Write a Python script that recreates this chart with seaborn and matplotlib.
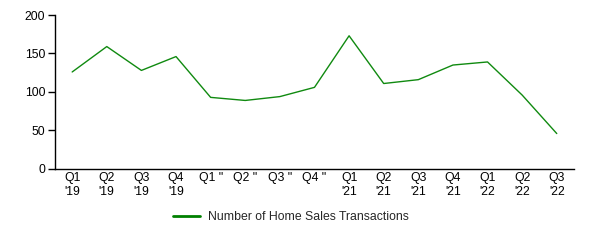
import matplotlib
matplotlib.use('Agg')
import matplotlib.pyplot as plt
import seaborn as sns
import pandas as pd

# quarters and home sales counts
quarters = ["Q1\n'19", "Q2\n'19", "Q3\n'19", "Q4\n'19",
            'Q1 "', 'Q2 "', 'Q3 "', 'Q4 "',
            "Q1\n'21", "Q2\n'21", "Q3\n'21", "Q4\n'21",
            "Q1\n'22", "Q2\n'22", "Q3\n'22"]
transactions = [126, 159, 128, 146, 93, 89, 94, 106, 173, 111, 116, 135, 139, 96, 46]
series_name = 'Number of Home Sales Transactions'

df = pd.DataFrame({'Quarter': quarters, 'Count': transactions})

sns.set_style('white')
plt.rcParams['font.family'] = ['Liberation Sans', 'DejaVu Sans']
plt.rcParams['font.size'] = 8.8

fig = plt.figure(figsize=(5.9, 2.4), dpi=100)
ax = fig.add_axes([0.093, 0.296, 0.88, 0.6415])

sns.lineplot(data=df, x='Quarter', y='Count', color='#108a10', linewidth=1.0,
             label=series_name, ax=ax, sort=False)

ax.set_ylim(0, 200)
ax.set_yticks([0, 50, 100, 150, 200])
ax.set_xlim(-0.5, len(quarters) - 0.5)
ax.set_xticks(range(len(quarters)))
ax.set_xticklabels(quarters, va='top', linespacing=1.2)
ax.set_xlabel('')
ax.set_ylabel('')

for s in ['top', 'right']:
    ax.spines[s].set_visible(False)
for s in ['left', 'bottom']:
    ax.spines[s].set_color('black')
    ax.spines[s].set_linewidth(1.0)

ax.tick_params(axis='y', left=True, length=5, width=1, color='black', pad=2, labelcolor='black')
ax.tick_params(axis='x', bottom=False, length=0, pad=2, labelcolor='black')

ax.get_legend().remove()
handles, labels = ax.get_legend_handles_labels()
leg = fig.legend(handles, labels, loc='center', bbox_to_anchor=(0.493, 0.096),
                 frameon=False, handlelength=2.2, handletextpad=0.6, fontsize=8.8)
for line in leg.get_lines():
    line.set_linewidth(2)
    line.set_color('#008000')

fig.savefig('out.png', dpi=100)
